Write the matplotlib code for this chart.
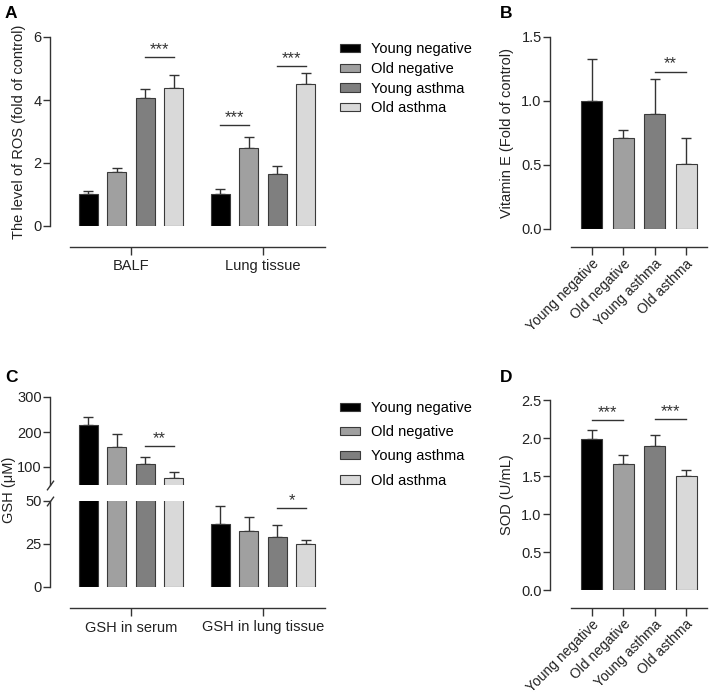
import numpy as np
import matplotlib
matplotlib.use("Agg")
import matplotlib.pyplot as plt
from matplotlib.patches import Patch

plt.rcParams['font.family'] = ['Liberation Sans', 'DejaVu Sans']

# группы и цвета
groups = ["Young negative", "Old negative", "Young asthma", "Old asthma"]
colors = ["#000000", "#a0a0a0", "#7f7f7f", "#d9d9d9"]

# A: ROS
ros_tissues = ["BALF", "Lung tissue"]
ros_mean = [[1.0, 1.72, 4.05, 4.37], [1.0, 2.49, 1.64, 4.52]]
ros_sd = [[0.12, 0.13, 0.30, 0.42], [0.17, 0.34, 0.25, 0.34]]
ros_sig = [(0, 2, 3, 5.37, "***"), (1, 0, 1, 3.2, "***"), (1, 2, 3, 5.08, "***")]

# B: Vitamin E
vite_mean = [1.0, 0.71, 0.90, 0.51]
vite_sd = [0.33, 0.06, 0.27, 0.20]
vite_sig = [(2, 3, 1.23, "**")]

# C: GSH
gsh_tissues = ["GSH in serum", "GSH in lung tissue"]
gsh_mean = [[221, 158, 110, 68], [36.7, 32.6, 29.2, 24.7]]
gsh_sd = [[23, 36, 20, 17], [10.4, 8.1, 6.5, 2.3]]
gsh_sig = [(0, 2, 3, 161, "**"), (1, 2, 3, 45.6, "*")]

# D: SOD
sod_mean = [1.99, 1.66, 1.90, 1.50]
sod_sd = [0.11, 0.12, 0.14, 0.08]
sod_sig = [(0, 1, 2.24, "***"), (2, 3, 2.245, "***")]

W, H = 709, 694
PT = 0.72  # пикселей -> пункты
fig = plt.figure(figsize=(W / 100, H / 100), dpi=100)

LC = "#333333"
TC = "#222222"
FS = 10.5


def add_ax(l, t, r, b):
    return fig.add_axes([l / W, 1 - b / H, (r - l) / W, (b - t) / H])


def style(ax, ybounds, xbounds, outward_px, xpad=3.5):
    for s in ["top", "right"]:
        ax.spines[s].set_visible(False)
    ax.spines["bottom"].set_position(("outward", outward_px * PT))
    ax.spines["left"].set_bounds(*ybounds)
    ax.spines["bottom"].set_bounds(*xbounds)
    for s in ["left", "bottom"]:
        ax.spines[s].set_color(LC)
        ax.spines[s].set_linewidth(1.0)
    ax.tick_params(colors=LC, labelcolor=TC, labelsize=FS, length=5, width=1.0)
    ax.tick_params(axis="y", pad=1)
    ax.tick_params(axis="x", pad=xpad, length=5.5)


def bars(ax, x, mean, sd, width):
    ax.bar(x, mean, width, color=colors, edgecolor="#3a3a3a", linewidth=0.8, zorder=2)
    ax.errorbar(x, mean, yerr=[np.zeros(len(sd)), sd], fmt="none", ecolor=LC,
                elinewidth=1.0, capsize=3.5, capthick=1.0, zorder=1)


def sig(ax, x1, x2, y, label):
    ax.plot([x1, x2], [y, y], color=LC, lw=1.0)
    ax.annotate(label, ((x1 + x2) / 2, y), xytext=(0, 0), textcoords="offset points",
                ha="center", va="bottom", fontsize=12, color=LC)


off = (np.arange(4) - 1.5) * 0.217
bw = 0.144

# --- A ---
axA = add_ax(50, 37, 325, 226)
style(axA, (0, 6), (-0.462, 1.47), 21)
for g in range(2):
    bars(axA, g + off, ros_mean[g], ros_sd[g], bw)
for g, i, j, y, lab in ros_sig:
    sig(axA, g + off[i], g + off[j], y, lab)
axA.set_xlim(-0.614, 1.47)
axA.set_ylim(0, 6)
axA.set_yticks([0, 2, 4, 6])
axA.set_xticks([0, 1])
axA.set_xticklabels(ros_tissues)
axA.set_ylabel("The level of ROS (fold of control)", fontsize=FS, color=TC, labelpad=5)

# --- B ---
xb = np.arange(4)
axB = add_ax(550, 37, 707, 229)
style(axB, (0, 1.5), (-0.67, 3.67), 18, xpad=1.5)
bars(axB, xb, vite_mean, vite_sd, 0.67)
for i, j, y, lab in vite_sig:
    sig(axB, i, j, y, lab)
axB.set_xlim(-1.34, 3.67)
axB.set_ylim(0, 1.5)
axB.set_yticks([0, 0.5, 1.0, 1.5])
axB.set_yticklabels(["0.0", "0.5", "1.0", "1.5"])
axB.set_xticks(xb)
axB.set_xticklabels(groups, rotation=45, ha="right", rotation_mode="anchor", fontsize=10)
axB.set_ylabel("Vitamin E (Fold of control)", fontsize=FS, color=TC, labelpad=5)

# --- C (разрыв оси) ---
axCu = add_ax(50, 397, 325, 484.5)
axCl = add_ax(50, 500.7, 325, 587)
style(axCu, (50, 300), (-0.462, 1.47), 0)
style(axCl, (0, 50), (-0.462, 1.47), 21)
axCu.spines["bottom"].set_visible(False)
axCu.tick_params(axis="x", bottom=False, labelbottom=False)
bars(axCu, off, gsh_mean[0], gsh_sd[0], bw)
for g in range(2):
    bars(axCl, g + off, gsh_mean[g], gsh_sd[g], bw)
for ax in (axCu, axCl):
    ax.set_xlim(-0.614, 1.47)
axCu.set_ylim(50, 300)
axCl.set_ylim(0, 50)
g, i, j, y, lab = gsh_sig[0]
sig(axCu, g + off[i], g + off[j], y, lab)
g, i, j, y, lab = gsh_sig[1]
sig(axCl, g + off[i], g + off[j], y, lab)
axCu.set_yticks([100, 200, 300])
axCl.set_yticks([0, 25, 50])
axCl.set_xticks([0, 1])
axCl.set_xticklabels(gsh_tissues)
brk = dict(marker=[(-1, -1.4), (1, 1.4)], markersize=7, linestyle="none",
           color=LC, mec=LC, mew=1.0, clip_on=False)
axCu.plot([0], [0], transform=axCu.transAxes, **brk)
axCl.plot([0], [1], transform=axCl.transAxes, **brk)
fig.text(2 / W, 1 - 490 / H, "GSH (μM)", rotation=90, ha="left", va="center",
         fontsize=FS, color=TC)

# --- D ---
axD = add_ax(550, 400, 707, 590)
style(axD, (0, 2.5), (-0.67, 3.67), 18, xpad=1.0)
bars(axD, xb, sod_mean, sod_sd, 0.67)
for i, j, y, lab in sod_sig:
    sig(axD, i, j, y, lab)
axD.set_xlim(-1.34, 3.67)
axD.set_ylim(0, 2.5)
axD.set_yticks([0, 0.5, 1.0, 1.5, 2.0, 2.5])
axD.set_yticklabels(["0.0", "0.5", "1.0", "1.5", "2.0", "2.5"])
axD.set_xticks(xb)
axD.set_xticklabels(groups, rotation=45, ha="right", rotation_mode="anchor", fontsize=10)
axD.set_ylabel("SOD (U/mL)", fontsize=FS, color=TC, labelpad=5)

# легенды
handles = [Patch(facecolor=c, edgecolor="#3a3a3a", linewidth=0.8) for c in colors]
leg_kw = dict(loc="upper left", frameon=False, fontsize=10.5, handlelength=1.37,
              handleheight=0.48, handletextpad=0.75, borderpad=0, borderaxespad=0)
fig.legend(handles, groups, bbox_to_anchor=(340 / W, 1 - 42 / H), labelspacing=0.4, **leg_kw)
fig.legend(handles, groups, bbox_to_anchor=(340 / W, 1 - 401 / H), labelspacing=0.7, **leg_kw)

# буквы панелей
for lab, x, y in [("A", 5, 13), ("B", 500, 13), ("C", 5, 377), ("D", 500, 377)]:
    fig.text(x / W, 1 - y / H, lab, fontsize=12.5, fontweight="bold", ha="left", va="center")

fig.savefig("out.png", dpi=100)
